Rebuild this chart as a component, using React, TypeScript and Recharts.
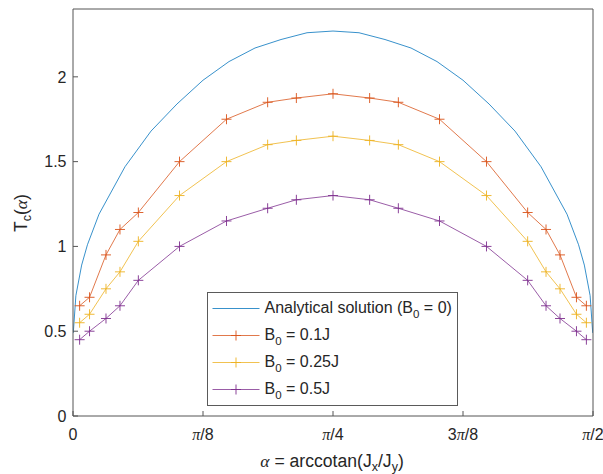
import React from 'react';
import { LineChart, Line, XAxis, YAxis } from 'recharts';

// ---- data ----
// α in degrees (0 .. 90 = π/2)
const markerAlpha = [1.146, 2.862, 5.711, 8.13, 11.31, 18.435, 26.565, 33.69, 38.66, 45.0, 51.34, 56.31, 63.435, 71.565, 78.69, 81.87, 84.289, 87.138, 88.854];
const tcB01 = [0.65, 0.7, 0.95, 1.1, 1.2, 1.5, 1.75, 1.85, 1.875, 1.9, 1.875, 1.85, 1.75, 1.5, 1.2, 1.1, 0.95, 0.7, 0.65];
const tcB025 = [0.55, 0.6, 0.75, 0.85, 1.03, 1.3, 1.5, 1.6, 1.625, 1.65, 1.625, 1.6, 1.5, 1.3, 1.03, 0.85, 0.75, 0.6, 0.55];
const tcB05 = [0.45, 0.5, 0.575, 0.65, 0.8, 1.0, 1.15, 1.225, 1.275, 1.3, 1.275, 1.225, 1.15, 1.0, 0.8, 0.65, 0.575, 0.5, 0.45];

const analyticAlpha = [0.05, 0.5, 1.5, 2.5, 4.5, 9, 13.5, 18, 22.5, 27, 31.5, 36, 40.5, 45, 49.5, 54, 58.5, 63, 67.5, 72, 76.5, 81, 85.5, 87.5, 88.5, 89.5, 89.95];
const tcAnalytic = [0.49, 0.71, 0.89, 1.01, 1.19, 1.47, 1.68, 1.84, 1.98, 2.09, 2.17, 2.22, 2.26, 2.27, 2.26, 2.22, 2.17, 2.09, 1.98, 1.84, 1.68, 1.47, 1.19, 1.01, 0.89, 0.71, 0.49];

const xTicks = [0, 22.5, 45, 67.5, 90];
const xTickLabels = ['0', 'π/8', 'π/4', '3π/8', 'π/2'];
const yTicks = [0, 0.5, 1, 1.5, 2];
const yTickLabels = ['0', '0.5', '1', '1.5', '2'];

const seriesNames = ['Analytical solution (B0 = 0)', 'B0 = 0.1J', 'B0 = 0.25J', 'B0 = 0.5J'];
const colors = ['#0072BD', '#D95319', '#EDB120', '#7E2F8E'];

const zip = (xs: number[], ys: number[]) => xs.map((a, i) => ({ alpha: a, tc: ys[i] }));
const analyticData = zip(analyticAlpha, tcAnalytic);
const b01Data = zip(markerAlpha, tcB01);
const b025Data = zip(markerAlpha, tcB025);
const b05Data = zip(markerAlpha, tcB05);

const FONT = '"Liberation Sans", Arial, Helvetica, sans-serif';
const SERIF = '"Liberation Serif", "DejaVu Serif", serif';
const TEXT = '#262626';
const AXIS = '#555555';
const LINE_OPACITY = 0.78;

const renderPiLabel = (label: string) => {
  const parts = label.split('π');
  if (parts.length === 1) return label;
  return (
    <>
      {parts[0]}
      <tspan fontFamily={SERIF} fontStyle="italic">π</tspan>
      {parts[1]}
    </>
  );
};

const XTick = (props: any) => {
  const { x, y, payload } = props;
  const idx = xTicks.indexOf(payload.value);
  const label = idx >= 0 ? xTickLabels[idx] : String(payload.value);
  return (
    <g>
      <line x1={x} x2={x} y1={y} y2={y - 5} stroke={AXIS} strokeWidth={1} />
      <text x={x} y={y + 23.5} textAnchor="middle" fontSize={16} fill={TEXT} fontFamily={FONT}>
        {renderPiLabel(label)}
      </text>
    </g>
  );
};

const YTick = (props: any) => {
  const { x, y, payload } = props;
  const idx = yTicks.indexOf(payload.value);
  const label = idx >= 0 ? yTickLabels[idx] : String(payload.value);
  return (
    <g>
      <line x1={x} x2={x + 5} y1={y} y2={y} stroke={AXIS} strokeWidth={1} />
      <text x={x - 6.5} y={y} dy="0.36em" textAnchor="end" fontSize={16} fill={TEXT} fontFamily={FONT}>
        {label}
      </text>
    </g>
  );
};

const makePlus = (color: string) => (props: any) => {
  const { cx, cy, index } = props;
  if (cx == null || cy == null) return <g key={index} />;
  return (
    <path
      key={index}
      d={`M${cx - 5},${cy}H${cx + 5}M${cx},${cy - 5}V${cy + 5}`}
      stroke={color}
      strokeWidth={1}
      strokeOpacity={0.9}
      fill="none"
    />
  );
};

const XLabel = (props: any) => {
  const vb = props.viewBox || { x: 73, y: 416, width: 520, height: 58 };
  return (
    <text x={vb.x + vb.width / 2 - 1} y={vb.y + 51} textAnchor="middle" fontSize={17.6} fill={TEXT} fontFamily={FONT}>
      <tspan fontFamily={SERIF} fontStyle="italic">α</tspan>
      <tspan> = arccotan(J</tspan>
      <tspan fontSize={12.5} dy={4}>x</tspan>
      <tspan dy={-4}>/J</tspan>
      <tspan fontSize={12.5} dy={4}>y</tspan>
      <tspan dy={-4}>)</tspan>
    </text>
  );
};

const YLabel = (props: any) => {
  const vb = props.viewBox || { x: 0, y: 9, width: 73, height: 407 };
  const cy = vb.y + vb.height / 2 + 0.5;
  return (
    <text transform={`translate(27, ${cy}) rotate(-90)`} textAnchor="middle" fontSize={17.6} fill={TEXT} fontFamily={FONT}>
      <tspan>T</tspan>
      <tspan fontSize={12.5} dy={4}>c</tspan>
      <tspan dy={-4}>(</tspan>
      <tspan fontFamily={SERIF} fontStyle="italic">α</tspan>
      <tspan>)</tspan>
    </text>
  );
};

const LegendLabel = ({ text, y }: { text: string; y: number }) => {
  const i = text.indexOf('B0');
  const before = text.slice(0, i);
  const after = text.slice(i + 2);
  return (
    <text x={56.5} y={y + 4} fontSize={16} fill={TEXT} fontFamily={FONT}>
      <tspan>{before}B</tspan>
      <tspan fontSize={11.5} dy={5}>0</tspan>
      <tspan dy={-5}>{after}</tspan>
    </text>
  );
};

const LegendBox = () => {
  const rows = [15.5, 42.5, 69.5, 96.5];
  return (
    <div
      style={{
        position: 'absolute',
        left: 207,
        top: 292,
        width: 251,
        height: 114,
        boxSizing: 'border-box',
        border: '1px solid #5a5a5a',
        background: '#ffffff',
      }}
    >
      <svg width={249} height={112} style={{ position: 'absolute', left: 0, top: 0 }}>
        {seriesNames.map((name, i) => (
          <g key={name}>
            <line x1={4.5} x2={51.5} y1={rows[i]} y2={rows[i]} stroke={colors[i]} strokeWidth={1} strokeOpacity={LINE_OPACITY} />
            {i > 0 && (
              <path d={`M23,${rows[i]}H33M28,${rows[i] - 5}V${rows[i] + 5}`} stroke={colors[i]} strokeWidth={1} strokeOpacity={0.9} fill="none" />
            )}
            <LegendLabel text={name} y={rows[i]} />
          </g>
        ))}
      </svg>
    </div>
  );
};

export default function App() {
  return (
    <div style={{ position: 'absolute', left: 0, top: 0, width: 603, height: 474, background: '#ffffff' }}>
      <LineChart width={603} height={474} margin={{ top: 8, right: 9, bottom: 0, left: 0 }}>
        <XAxis
          dataKey="alpha"
          type="number"
          domain={[0, 90]}
          ticks={xTicks}
          interval={0}
          height={58}
          tickSize={0}
          tickMargin={0}
          tickLine={false}
          axisLine={{ stroke: AXIS, strokeWidth: 1 }}
          tick={XTick}
          label={XLabel}
          allowDataOverflow
        />
        <XAxis
          xAxisId="top"
          orientation="top"
          dataKey="alpha"
          type="number"
          domain={[0, 90]}
          ticks={xTicks}
          interval={0}
          height={1}
          tick={false}
          tickSize={-5}
          tickLine={{ stroke: AXIS, strokeWidth: 1 }}
          axisLine={{ stroke: AXIS, strokeWidth: 1 }}
          allowDataOverflow
        />
        <YAxis
          type="number"
          domain={[0, 2.4]}
          ticks={yTicks}
          interval={0}
          width={73}
          tickSize={0}
          tickMargin={0}
          tickLine={false}
          axisLine={{ stroke: AXIS, strokeWidth: 1 }}
          tick={YTick}
          label={YLabel}
          allowDataOverflow
        />
        <YAxis
          yAxisId="right"
          orientation="right"
          type="number"
          domain={[0, 2.4]}
          ticks={yTicks}
          interval={0}
          width={1}
          tick={false}
          tickSize={-5}
          tickLine={{ stroke: AXIS, strokeWidth: 1 }}
          axisLine={{ stroke: AXIS, strokeWidth: 1 }}
          allowDataOverflow
        />
        <Line
          data={analyticData}
          dataKey="tc"
          type="linear"
          stroke={colors[0]}
          strokeWidth={1}
          strokeOpacity={LINE_OPACITY}
          dot={false}
          activeDot={false}
          isAnimationActive={false}
        />
        <Line
          data={b01Data}
          dataKey="tc"
          type="linear"
          stroke={colors[1]}
          strokeWidth={1}
          strokeOpacity={LINE_OPACITY}
          dot={makePlus(colors[1])}
          activeDot={false}
          isAnimationActive={false}
        />
        <Line
          data={b025Data}
          dataKey="tc"
          type="linear"
          stroke={colors[2]}
          strokeWidth={1}
          strokeOpacity={LINE_OPACITY}
          dot={makePlus(colors[2])}
          activeDot={false}
          isAnimationActive={false}
        />
        <Line
          data={b05Data}
          dataKey="tc"
          type="linear"
          stroke={colors[3]}
          strokeWidth={1}
          strokeOpacity={LINE_OPACITY}
          dot={makePlus(colors[3])}
          activeDot={false}
          isAnimationActive={false}
        />
      </LineChart>
      <LegendBox />
    </div>
  );
}
